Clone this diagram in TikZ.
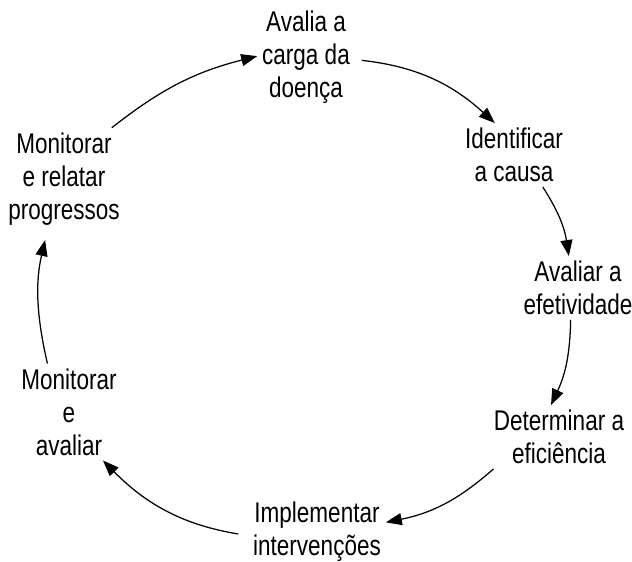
\documentclass[tikz,border=0pt]{standalone}
\usepackage{fontspec}
\setmainfont{Liberation Sans}[FakeStretch=0.79]
\usetikzlibrary{arrows.meta}
\begin{document}
\begin{tikzpicture}[x=1pt,y=1pt,
  lbl/.style={align=center, inner sep=0pt, outer sep=5pt, font=\fontsize{28.5}{33}\selectfont},
  arr/.style={-{Triangle[length=16pt,width=12pt]}, line width=1.25pt}]
\fill[white] (0,0) rectangle (632,-562);
\useasboundingbox (0,0) rectangle (632,-562);
\node[lbl] (n1) at (306,-57) {Avalia a\\carga da\\doença};
\node[lbl] (n2) at (514,-155) {Identificar\\a causa};
\node[lbl] (n3) at (578,-288) {Avaliar a\\efetividade};
\node[lbl] (n4) at (559,-437) {Determinar a\\eficiência};
\node[lbl] (n5) at (317,-532) {Implementar\\intervenções};
\node[lbl] (n6) at (69,-412) {Monitorar\\e\\avaliar};
\node[lbl] (n7) at (64,-179) {Monitorar\\e relatar\\progressos};
\draw[arr] (n7.47) to[bend left=12] (n1.179);
\draw[arr, shorten <=7pt] (n1.-3) to[bend left=18] (n2.121);
\draw[arr] (n2.-48) to[bend left=12] (n3.106);
\draw[arr] (n3.257) to[bend left=12] (n4.104);
\draw[arr] (n4.206) to[bend left=15] (n5.8);
\draw[arr, shorten <=10pt] (n5.183) to[bend left=18] (n6.-55);
\draw[arr, shorten >=10pt] (n6.114) to[bend left=13] (n7.252);
\end{tikzpicture}
\end{document}
